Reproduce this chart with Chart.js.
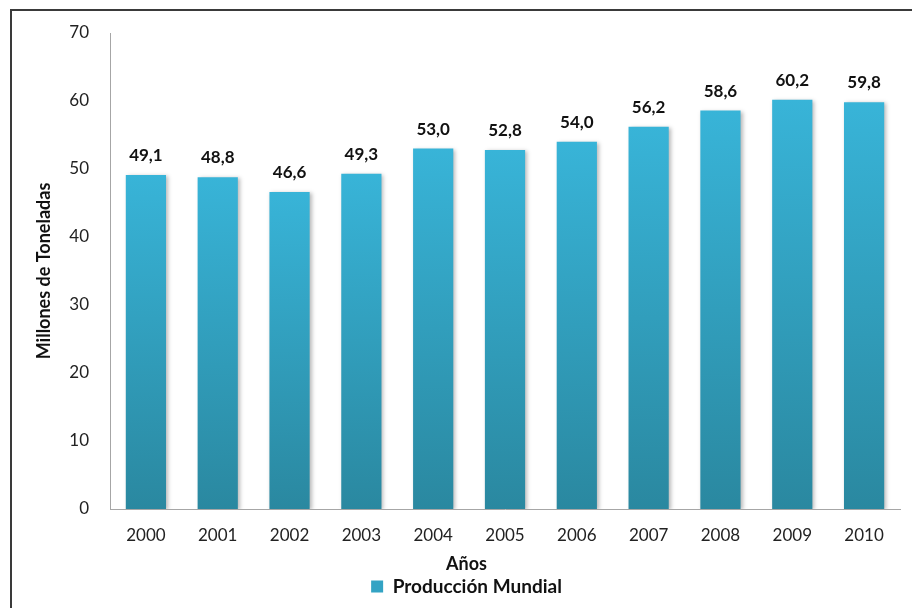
<!DOCTYPE html>
<html>
<head>
<meta charset="utf-8">
<script src="https://cdn.jsdelivr.net/npm/chart.js@4"></script>
<style>
  html, body { margin: 0; padding: 0; background: #fff; overflow: hidden; }
  #wrap { position: relative; width: 912px; height: 608px; }
  #frame { position: absolute; left: 10px; top: 9px; width: 940px; height: 640px; border: 2px solid #3a3a3a; box-sizing: border-box; pointer-events: none; }
  canvas { position: absolute; left: 0; top: 0; }
</style>
</head>
<body>
<div id="wrap">
  <canvas id="produccion-chart" width="912" height="608"></canvas>
  <div id="frame"></div>
</div>
<script>
// Producción mundial, millones de toneladas
var anios = ['2000', '2001', '2002', '2003', '2004', '2005', '2006', '2007', '2008', '2009', '2010'];
var produccion = [49.1, 48.8, 46.6, 49.3, 53.0, 52.8, 54.0, 56.2, 58.6, 60.2, 59.8];
var ejeY = { min: 0, max: 70, paso: 10 };

var fuente = "Lato, 'Open Sans', sans-serif";

// Degradado vertical por barra, claro arriba y oscuro abajo
function colorBarra(context) {
  var chart = context.chart;
  if (!chart.chartArea || context.dataIndex === undefined) return '#33a6c8';
  var y = chart.scales.y;
  var top = y.getPixelForValue(context.raw);
  var base = y.getPixelForValue(0);
  var g = chart.ctx.createLinearGradient(0, top, 0, base);
  g.addColorStop(0, '#38b4d8');
  g.addColorStop(1, '#2a88a0');
  return g;
}

// Sombra suave de las barras
var sombra = {
  id: 'sombra',
  beforeDatasetsDraw: function(chart) {
    var ctx = chart.ctx;
    ctx.save();
    ctx.shadowColor = 'rgba(0,0,0,0.28)';
    ctx.shadowBlur = 4;
    ctx.shadowOffsetX = 2;
    ctx.shadowOffsetY = 1;
  },
  afterDatasetsDraw: function(chart) {
    chart.ctx.restore();
  }
};

// Valores encima de cada barra, con coma decimal
var etiquetas = {
  id: 'etiquetas',
  afterDraw: function(chart) {
    var ctx = chart.ctx;
    var meta = chart.getDatasetMeta(0);
    ctx.save();
    ctx.font = 'bold 17px ' + fuente;
    ctx.fillStyle = '#111';
    ctx.textAlign = 'center';
    ctx.textBaseline = 'bottom';
    meta.data.forEach(function(bar, i) {
      var txt = produccion[i].toFixed(1).replace('.', ',');
      ctx.fillText(txt, bar.x, bar.y - 11);
    });
    ctx.restore();
  }
};

new Chart(document.getElementById('produccion-chart'), {
  type: 'bar',
  data: {
    labels: anios,
    datasets: [
      {
        label: 'Producción Mundial',
        data: produccion,
        backgroundColor: colorBarra,
        borderWidth: 0,
        categoryPercentage: 1.0,
        barPercentage: 0.56
      }
    ]
  },
  options: {
    responsive: false,
    animation: false,
    devicePixelRatio: 1,
    layout: { padding: { left: 33, right: 12, top: 33, bottom: 2 } },
    plugins: {
      tooltip: { enabled: false },
      legend: {
        position: 'bottom',
        title: {
          display: true,
          text: 'Años',
          font: { family: fuente, size: 18, weight: 'bold' },
          color: '#111',
          padding: { top: 2, bottom: 0 }
        },
        labels: {
          font: { family: fuente, size: 19, weight: 'bold' },
          color: '#111',
          boxWidth: 12,
          boxHeight: 12,
          padding: 0,
          generateLabels: function(chart) {
            return [{ text: 'Producción Mundial', fillStyle: '#33a3c4', strokeStyle: '#33a3c4', lineWidth: 0, datasetIndex: 0 }];
          }
        }
      }
    },
    scales: {
      x: {
        grid: { display: false },
        border: { display: true, color: '#a6a6a6', width: 1 },
        ticks: { font: { family: fuente, size: 17 }, color: '#222', padding: 8 }
      },
      y: {
        min: ejeY.min,
        max: ejeY.max,
        grid: { display: false },
        border: { display: true, color: '#a6a6a6', width: 1 },
        ticks: { stepSize: ejeY.paso, font: { family: fuente, size: 17 }, color: '#222', padding: 13 },
        title: {
          display: true,
          text: 'Millones de Toneladas',
          font: { family: fuente, size: 18, weight: 'bold' },
          color: '#111',
          padding: { top: 0, bottom: 10 }
        },
        afterFit: function(scale) { scale.width = 77; }
      }
    }
  },
  plugins: [sombra, etiquetas]
});
</script>
</body>
</html>
